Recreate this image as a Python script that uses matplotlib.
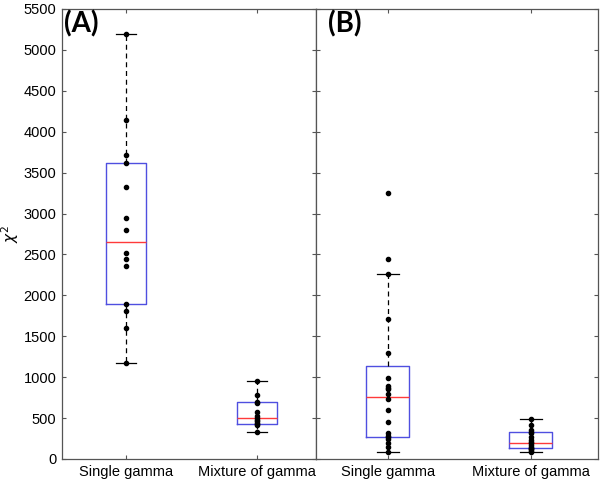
"""Box plots of chi-square fit values: single gamma vs mixture of gamma, panels (A) and (B)."""

import matplotlib

matplotlib.use("Agg")
import matplotlib.pyplot as plt
import numpy as np

CATEGORIES = ["Single gamma", "Mixture of gamma"]
PANELS = ["(A)", "(B)"]

# chi-square values, one list per box
A_SINGLE = [5200, 4140, 3710, 3615, 3320, 2945, 2795, 2520, 2450, 2365, 1895, 1810, 1600, 1175]
A_MIXTURE = [955, 780, 700, 690, 570, 530, 500, 480, 460, 435, 425, 415, 330]
B_SINGLE = [3250, 2450, 2260, 1715, 1290, 985, 890, 870, 850, 790,
            730, 600, 455, 315, 280, 265, 250, 190, 145, 90]
B_MIXTURE = [490, 420, 355, 330, 320, 265, 230, 205, 195, 175, 150, 135, 128, 120, 100, 85]

Y_TICKS = list(range(0, 5501, 500))

BOX_COLOR = "#4f4fe0"
MEDIAN_COLOR = "#ff3a3a"
SPINE_COLOR = "#555555"


def box_stats(values: list[float]) -> dict:
    # MATLAB-style quartiles (hazen) and 1.5*IQR whiskers
    data = np.asarray(values, dtype=float)
    q1, med, q3 = np.percentile(data, [25, 50, 75], method="hazen")
    iqr = q3 - q1
    inside = data[(data >= q1 - 1.5 * iqr) & (data <= q3 + 1.5 * iqr)]
    return {"med": med, "q1": q1, "q3": q3, "whislo": inside.min(), "whishi": inside.max(), "fliers": []}


def draw_panel(ax, groups: list[list[float]], label: str, label_x: float,
               xlim: tuple[float, float], show_labels: bool) -> None:
    positions = [1, 2]
    ax.bxp(
        [box_stats(g) for g in groups],
        positions=positions,
        widths=0.3,
        showfliers=False,
        boxprops={"color": BOX_COLOR, "linewidth": 1.0},
        medianprops={"color": MEDIAN_COLOR, "linewidth": 1.0},
        whiskerprops={"color": "black", "linewidth": 0.9, "linestyle": (0, (4, 3))},
        capprops={"color": "black", "linewidth": 0.9},
    )
    for pos, values in zip(positions, groups):
        ax.plot([pos] * len(values), values, "o", color="black", markersize=3.0, zorder=3)

    ax.set_xlim(*xlim)
    ax.set_ylim(0, 5500)
    ax.set_yticks(Y_TICKS)
    ax.set_xticks(positions)
    ax.set_xticklabels(CATEGORIES)
    ax.tick_params(direction="in", length=3, width=0.8, color=SPINE_COLOR,
                   top=True, right=True, labelsize=10.5, pad=4)
    if not show_labels:
        ax.tick_params(labelleft=False)
    for spine in ax.spines.values():
        spine.set_color(SPINE_COLOR)
        spine.set_linewidth(0.9)
    ax.text(label_x, 0.996, label, transform=ax.transAxes, ha="left", va="top",
            fontsize=20, fontweight="bold", family="Lato")


def main() -> None:
    plt.rcParams["font.family"] = ["Liberation Sans", "DejaVu Sans"]
    fig = plt.figure(figsize=(6.0, 4.82), dpi=100)
    ax_a = fig.add_axes([62 / 600, 1 - 459 / 482, 254 / 600, 450 / 482])
    ax_b = fig.add_axes([316 / 600, 1 - 459 / 482, 282 / 600, 450 / 482])

    draw_panel(ax_a, [A_SINGLE, A_MIXTURE], PANELS[0], 0.008, (0.511, 2.45), True)
    draw_panel(ax_b, [B_SINGLE, B_MIXTURE], PANELS[1], 0.044, (0.497, 2.47), False)
    ax_a.set_ylabel(r"$\chi^2$", fontsize=11, labelpad=2)

    fig.savefig("out.png", dpi=100)
    plt.close(fig)


if __name__ == "__main__":
    main()
